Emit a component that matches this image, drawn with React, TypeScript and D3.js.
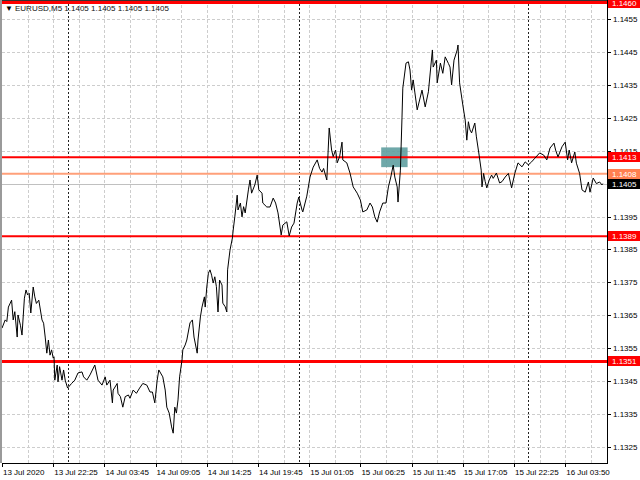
import React from 'react'
import * as d3 from 'd3'

// bar index (M5 bars from the left edge) and close price
const bars = [
  0, 4, 6, 8, 12, 14, 16, 19, 20, 23,
  25, 28, 30, 32, 34, 36, 39, 41, 43, 46,
  50, 52, 54, 56, 58, 60, 62, 64, 65, 66,
  69, 70, 72, 75, 77, 79, 82, 87, 91, 95,
  100, 102, 106, 110, 116, 120, 125, 129, 131, 135,
  138, 139, 144, 145, 148, 151, 154, 158, 160, 164,
  168, 172, 176, 181, 185, 188, 191, 194, 196, 201,
  204, 206, 209, 212, 214, 216, 218, 220, 222, 225,
  226, 229, 231, 235, 238, 240, 244, 245, 248, 250,
  253, 254, 256, 258, 260, 262, 264, 266, 268, 270,
  272, 275, 276, 279, 281, 282, 285, 288, 289, 291,
  294, 295, 298, 300, 302, 304, 308, 310, 312, 316,
  319, 321, 325, 326, 331, 335, 339, 342, 345, 349,
  351, 356, 359, 362, 365, 369, 371, 375, 376, 381,
  385, 389, 394, 397, 400, 402, 406, 409, 412, 414,
  417, 419, 422, 425, 426, 431, 435, 439, 444, 448,
  451, 456, 460, 463, 466, 469, 472, 476, 480, 483,
  486, 489, 491, 494, 495, 498, 500, 501, 505, 508,
  510, 512, 514, 516, 519, 522, 525, 529, 533, 538,
  539, 543, 544, 548, 551, 554, 558, 560, 562, 565,
  569, 570, 572, 576, 579, 581, 583, 585, 587, 591,
  593, 596, 599, 600, 602, 604, 606, 609, 612, 614,
  618, 622, 625, 629, 633, 637, 641, 645, 650, 654,
  658, 662, 666, 672, 677, 681, 685, 690, 692, 695,
  700, 704, 707, 709, 712, 716, 718, 722, 725, 729,
  733, 735, 739, 743, 747, 750, 751,
]

const closes = [
  1.13611, 1.13636, 1.13631, 1.13675, 1.13696, 1.13636, 1.13661, 1.13584, 1.13651, 1.1362,
  1.1359, 1.13702, 1.13727, 1.13712, 1.13717, 1.13657, 1.13736, 1.13706, 1.13686, 1.13696,
  1.13636, 1.13626, 1.13584, 1.13535, 1.13575, 1.13529, 1.13545, 1.1352, 1.13524, 1.13453,
  1.13499, 1.13448, 1.13494, 1.13453, 1.13484, 1.13453, 1.13429, 1.13443, 1.13453, 1.13475,
  1.13478, 1.13463, 1.13453, 1.13469, 1.13499, 1.13453, 1.13438, 1.13463, 1.13438, 1.13453,
  1.13384, 1.13423, 1.13443, 1.13413, 1.13403, 1.13371, 1.13403, 1.13408, 1.13398, 1.13423,
  1.13413, 1.13429, 1.13443, 1.13438, 1.13417, 1.13417, 1.13384, 1.13453, 1.13484, 1.13463,
  1.13423, 1.13371, 1.13353, 1.13311, 1.13292, 1.13371, 1.13353, 1.13393, 1.13463, 1.13514,
  1.13545, 1.1356, 1.13575, 1.13627, 1.13636, 1.13584, 1.13535, 1.13575, 1.13645, 1.13675,
  1.13706, 1.13675, 1.13736, 1.13778, 1.13788, 1.13772, 1.13748, 1.13767, 1.13737, 1.1366,
  1.13757, 1.13742, 1.13687, 1.13676, 1.1366, 1.13788, 1.13848, 1.13885, 1.13909, 1.13949,
  1.14015, 1.1397, 1.13991, 1.13949, 1.1398, 1.13961, 1.14031, 1.14061, 1.14021, 1.14046,
  1.14076, 1.14031, 1.14021, 1.13991, 1.13979, 1.13979, 1.14006, 1.13991, 1.13961, 1.13894,
  1.13924, 1.13934, 1.13891, 1.13918, 1.1393, 1.13991, 1.14009, 1.1397, 1.13964, 1.14012,
  1.1407, 1.141, 1.14122, 1.14096, 1.14085, 1.14096, 1.14061, 1.14219, 1.14152, 1.14132,
  1.14152, 1.14113, 1.14132, 1.14176, 1.14122, 1.14113, 1.14082, 1.1404, 1.14021, 1.14,
  1.13964, 1.1397, 1.13991, 1.13979, 1.13949, 1.13933, 1.13964, 1.13991, 1.13991, 1.1404,
  1.1407, 1.14106, 1.1407, 1.1404, 1.13994, 1.14091, 1.14252, 1.1434, 1.14416, 1.1442,
  1.14395, 1.14334, 1.14365, 1.14328, 1.14274, 1.14304, 1.14334, 1.14283, 1.14329, 1.14456,
  1.14404, 1.14425, 1.14356, 1.14416, 1.14385, 1.14435, 1.14415, 1.14404, 1.1435, 1.14425,
  1.14456, 1.14471, 1.14356, 1.14289, 1.14243, 1.14182, 1.14238, 1.14213, 1.14204, 1.14234,
  1.14192, 1.14143, 1.14091, 1.1404, 1.14081, 1.14056, 1.14037, 1.14061, 1.14076, 1.14066,
  1.14082, 1.14052, 1.14056, 1.1407, 1.14081, 1.14037, 1.14081, 1.14113, 1.14101, 1.14116,
  1.14107, 1.14116, 1.14127, 1.14143, 1.14137, 1.14122, 1.14158, 1.14173, 1.14152, 1.14131,
  1.14162, 1.14176, 1.14122, 1.14152, 1.14113, 1.14146, 1.14112, 1.14081, 1.14031, 1.14024,
  1.14055, 1.14024, 1.14067, 1.1405, 1.14055, 1.14046, 1.1405,
]

const timeLabels = [
  '13 Jul 2020', '13 Jul 22:25', '14 Jul 03:45', '14 Jul 09:05', '14 Jul 14:25', '14 Jul 19:45',
  '15 Jul 01:05', '15 Jul 06:25', '15 Jul 11:45', '15 Jul 17:05', '15 Jul 22:25', '16 Jul 03:50',
]
const priceTicks = [
  1.1455, 1.1445, 1.1435, 1.1425, 1.1415, 1.1405, 1.1395,
  1.1385, 1.1375, 1.1365, 1.1355, 1.1345, 1.1335, 1.1325,
]
const daySeparators = [83, 371, 658] // bar index of midnight
const redLevels = [1.146, 1.1413, 1.1389, 1.1351]
const salmonLevel = 1.1408
const bidLevel = 1.1405
const boxBars = [474, 507]
const boxPrices = [1.1416, 1.141]

const W = 640
const H = 480
const left = 2
const right = 607
const bottom = 463
const font = '"Liberation Sans", Arial, sans-serif'

const App: React.FC = () => {
  const x = d3.scaleLinear().domain([0, 756.25]).range([left, right])
  const y = d3.scaleLinear().domain([1.1455, 1.1325]).range([19, 447])

  const line = d3
    .line<number>()
    .x((_, i) => x(bars[i]))
    .y((d) => y(d))

  const vGrid = d3.range(32, 757, 32)
  const labelBars = timeLabels.map((_, i) => i * 64)

  const levelWidth = (p: number) => (p === 1.146 || p === 1.1351 ? 3 : 2)

  const priceBox = (p: number, fill: string, key: string) => (
    <g key={key}>
      <rect x={608} y={Math.round(y(p)) - 5} width={32} height={10} fill={fill} />
      <text x={612} y={Math.round(y(p)) + 3} fontSize={8} fill="#fff" fontFamily={font}>
        {p.toFixed(4)}
      </text>
    </g>
  )

  return (
    <svg
      width={W}
      height={H}
      style={{ position: 'absolute', left: 0, top: 0, background: '#fff' }}
    >
      <rect width={W} height={H} fill="#fff" />

      {/* grid */}
      <g stroke="#cdcdcd" strokeDasharray="3,2" shapeRendering="crispEdges">
        {priceTicks.map((p) => (
          <line key={p} x1={left} x2={right} y1={Math.round(y(p)) + 0.5} y2={Math.round(y(p)) + 0.5} />
        ))}
        {vGrid.map((b) => (
          <line key={b} x1={Math.round(x(b)) + 0.5} x2={Math.round(x(b)) + 0.5} y1={0} y2={bottom} />
        ))}
      </g>

      {/* period separators */}
      <g stroke="#222" strokeDasharray="2,2" shapeRendering="crispEdges">
        {daySeparators.map((b) => (
          <line key={b} x1={Math.round(x(b)) + 0.5} x2={Math.round(x(b)) + 0.5} y1={0} y2={bottom} />
        ))}
      </g>

      {/* rectangle object */}
      <rect
        x={x(boxBars[0])}
        y={y(boxPrices[0])}
        width={x(boxBars[1]) - x(boxBars[0])}
        height={y(boxPrices[1]) - y(boxPrices[0])}
        fill="#5f9ea0"
        opacity={0.9}
      />

      {/* horizontal levels */}
      <line x1={left} x2={right} y1={Math.round(y(bidLevel)) + 0.5} y2={Math.round(y(bidLevel)) + 0.5} stroke="#c0c0c0" />
      <line x1={left} x2={right} y1={y(salmonLevel)} y2={y(salmonLevel)} stroke="#ffa07a" strokeWidth={2} />
      {redLevels.map((p) => (
        <line key={p} x1={left} x2={right} y1={y(p)} y2={y(p)} stroke="#ff0000" strokeWidth={levelWidth(p)} />
      ))}

      {/* price line */}
      <path d={line(closes) || ''} fill="none" stroke="#000" strokeWidth={1} />

      {/* frame */}
      <rect x={0} y={0} width={2} height={bottom} fill="#9a9a9a" />
      <line x1={left} x2={right} y1={0.5} y2={0.5} stroke="#333" />
      <line x1={right + 0.5} x2={right + 0.5} y1={0} y2={bottom} stroke="#000" />
      <line x1={left} x2={right + 1} y1={bottom + 0.5} y2={bottom + 0.5} stroke="#000" />

      {/* header */}
      <text x={5} y={11} fontSize={8} fill="#000" fontFamily={font}>
        ▼
      </text>
      <text x={15} y={11} fontSize={8} fill="#111" fontFamily={font}>
        EURUSD,M5  1.1405 1.1405 1.1405 1.1405
      </text>

      {/* price axis */}
      <g fontFamily={font} fontSize={8} fill="#000">
        {priceTicks.map((p) => (
          <g key={p}>
            <line x1={608} x2={611} y1={Math.round(y(p)) + 0.5} y2={Math.round(y(p)) + 0.5} stroke="#000" />
            <text x={613} y={y(p) + 3}>
              {p.toFixed(4)}
            </text>
          </g>
        ))}
      </g>
      {redLevels.map((p) => priceBox(p, '#ff0000', 'r' + p))}
      {priceBox(salmonLevel, '#ff7f50', 'salmon')}
      {priceBox(bidLevel, '#000', 'bid')}

      {/* time axis */}
      <g fontFamily={font} fontSize={8} fill="#000">
        {labelBars.map((b, i) => (
          <g key={b}>
            <line x1={Math.round(x(b)) + 0.5} x2={Math.round(x(b)) + 0.5} y1={bottom} y2={bottom + 4} stroke="#000" />
            <text x={x(b) + 1} y={bottom + 12}>
              {timeLabels[i]}
            </text>
          </g>
        ))}
      </g>
    </svg>
  )
}

export default App
